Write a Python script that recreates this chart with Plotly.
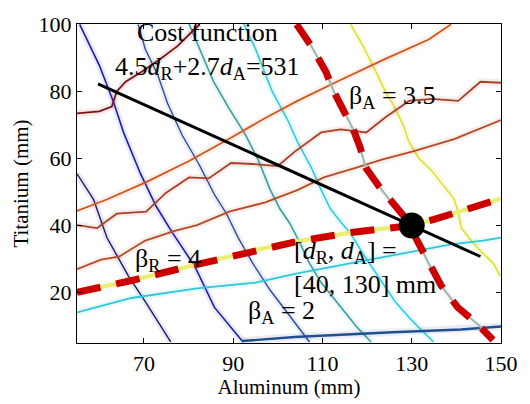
import plotly.graph_objects as go

# ---- beta_A contour lines (Aluminum-controlled), left to right ----
ba1_x = [55.0, 58.7, 61.7, 66.5, 70.3, 76.0]
ba1_y = [55.4, 47.8, 36.4, 25.0, 17.3, 5.3]

ba2_x = [55.6, 60.0, 63.3, 65.4, 69.2, 72.7, 76.4, 81.4, 85.8, 91.1, 92.2]
ba2_y = [99.9, 87.7, 76.3, 67.8, 55.5, 45.8, 37.8, 27.8, 15.6, 7.1, 5.3]

ba3_x = [68.7, 70.3, 73.1, 75.3, 78.6, 82.3, 85.8, 88.5, 91.1, 94.4, 98.3, 102.0, 107.1]
ba3_y = [99.9, 92.5, 84.8, 76.3, 66.8, 58.3, 49.2, 43.5, 36.4, 28.7, 20.7, 14.2, 5.3]

ba4_x = [80.1, 82.5, 85.6, 89.1, 92.8, 95.7, 98.3, 100.5, 102.7, 104.9, 107.1, 109.7, 114.1, 117.6, 120.9]
ba4_y = [100.0, 92.5, 82.8, 74.8, 66.9, 59.2, 50.6, 44.9, 40.6, 34.9, 28.7, 23.0, 15.6, 9.9, 5.3]

ba5_x = [92.4, 95.0, 98.7, 102.2, 104.4, 107.5, 109.7, 111.8, 114.0, 116.2, 119.1, 122.8, 126.3, 130.1, 132.9, 134.9]
ba5_y = [100.0, 92.5, 80.0, 71.4, 64.9, 57.2, 50.6, 44.9, 41.2, 37.8, 31.5, 24.1, 17.3, 11.6, 7.9, 5.3]

# beta_A = 3.5 (design limit)
ba35_x = [104.2, 107.5, 110.8, 112.5, 114.7, 116.9, 118.4, 119.7, 122.8, 126.3, 130.0, 131.0, 132.0, 133.8, 136.6, 140.3, 144.7, 148.2]
ba35_y = [99.9, 93.4, 85.7, 80.0, 74.3, 68.6, 63.4, 57.2, 51.4, 45.5, 40.0, 36.0, 33.5, 28.7, 22.1, 15.6, 10.7, 5.9]

ba6_x = [116.3, 119.1, 122.0, 124.1, 125.7, 127.9, 129.4, 131.6, 134.5, 137.1, 139.5, 140.4, 141.1, 143.3, 146.1, 148.3, 149.8]
ba6_y = [99.9, 93.4, 85.7, 79.9, 76.3, 70.5, 64.8, 60.0, 56.3, 52.0, 47.8, 44.1, 39.3, 35.5, 31.5, 28.7, 25.0]

# ---- beta_R contour lines (Titanium-controlled), bottom to top ----
br0_x = [92.0, 103.8, 125.7, 141.0, 150.0]
br0_y = [5.6, 6.8, 8.2, 9.0, 9.9]

br1_x = [55.0, 67.2, 81.9, 95.0, 103.8, 116.2, 124.1, 131.6, 138.8, 146.0, 150.0]
br1_y = [14.1, 18.4, 21.3, 23.0, 25.6, 28.7, 30.7, 32.7, 34.4, 35.5, 36.4]

# beta_R = 4 (design limit)
br4_x = [55.0, 67.2, 81.9, 95.0, 104.5, 116.9, 124.2, 130.0, 135.0, 140.3, 150.0]
br4_y = [20.1, 23.6, 28.4, 32.7, 35.3, 38.0, 39.2, 40.0, 41.8, 44.0, 48.0]

br5_x = [55.0, 60.4, 64.4, 70.3, 76.9, 81.9, 89.1, 97.2, 104.5, 110.3, 117.6, 123.5, 130.1, 139.5, 150.0]
br5_y = [27.0, 29.8, 30.7, 35.5, 38.4, 40.1, 44.1, 46.9, 50.6, 54.3, 57.2, 59.7, 62.0, 65.7, 71.4]

br6_x = [55.0, 59.5, 63.9, 70.5, 74.9, 80.1, 84.5, 89.5, 94.3, 100.0, 103.8, 109.7, 114.1, 119.8, 124.2, 129.4, 134.5, 140.4, 145.4, 150.0]
br6_y = [40.1, 39.2, 43.5, 44.1, 49.7, 54.3, 54.0, 58.6, 58.3, 57.7, 62.0, 67.7, 68.6, 67.7, 72.3, 77.1, 77.7, 77.1, 82.8, 82.5]

br7_x = [55.0, 61.8, 70.5, 80.1, 88.9, 97.2, 104.4, 113.2, 124.1, 133.8, 138.8]
br7_y = [44.3, 47.8, 52.9, 59.2, 65.7, 72.0, 77.1, 82.8, 89.6, 95.4, 99.9]

br8_x = [55.0, 60.0, 62.8, 63.9, 65.9, 69.4, 73.8, 77.5, 80.3, 82.5]
br8_y = [73.4, 74.0, 75.4, 79.9, 82.8, 85.7, 89.7, 93.4, 97.1, 99.9]

# ---- cost function and optimum ----
cost_r, cost_a, cost_total = 4.5, 2.7, 531
cost_x_ends = [59.7, 145.4]
opt_dR, opt_dA = 40, 130

x_ticks = [70, 90, 110, 130, 150]
y_ticks = [20, 40, 60, 80, 100]

fig = go.Figure()


def contour(x, y, color, width=1.6, halo=True):
    if halo:
        fig.add_trace(go.Scatter(x=x, y=y, mode="lines", opacity=0.09,
                                 line=dict(color=color, width=width + 5),
                                 hoverinfo="skip"))
    fig.add_trace(go.Scatter(x=x, y=y, mode="lines",
                             line=dict(color=color, width=width),
                             hoverinfo="skip"))


contour(ba1_x, ba1_y, "#1a1a66", 1.4)
contour(ba2_x, ba2_y, "#1c1cb0", 1.6)
contour(ba3_x, ba3_y, "#2c4a9c", 1.4)
contour(ba4_x, ba4_y, "#3a9e9e", 1.6)
contour(ba5_x, ba5_y, "#2ccfe0", 1.6)
contour(ba6_x, ba6_y, "#e2e23c", 1.8)
contour(br0_x, br0_y, "#1f4f8f", 2.4)
contour(br1_x, br1_y, "#2cc8dc", 1.8)
contour(br5_x, br5_y, "#b54a26", 1.8)
contour(br6_x, br6_y, "#a8402c", 1.8)
contour(br7_x, br7_y, "#d2561c", 1.8)
contour(br8_x, br8_y, "#7a1414", 1.8)

# limit-state contours under the red dashes
contour(ba35_x, ba35_y, "#9ab8aa", 2.0)
contour(br4_x, br4_y, "#ecec70", 4.0)

# cost function line
cost_y_ends = [(cost_total - cost_a * x) / cost_r for x in cost_x_ends]
fig.add_trace(go.Scatter(x=cost_x_ends, y=cost_y_ends, mode="lines",
                         line=dict(color="black", width=3), hoverinfo="skip"))

# red dashed design limits
for xs, ys in [(ba35_x, ba35_y), (br4_x, br4_y)]:
    fig.add_trace(go.Scatter(x=xs, y=ys, mode="lines",
                             line=dict(color="#cc0000", width=7, dash="24px,16px"),
                             hoverinfo="skip"))

# optimum design point
fig.add_trace(go.Scatter(x=[opt_dA], y=[opt_dR], mode="markers",
                         marker=dict(color="black", size=26), hoverinfo="skip"))

serif = "Liberation Serif"
ann_font = dict(family=serif, size=26, color="black")

annotations = [
    dict(x=84.3, y=92.0,
         text="Cost function<br>4.5<i>d</i><sub>R</sub>+2.7<i>d</i><sub>A</sub>=531",
         xanchor="center", yanchor="middle", align="center"),
    dict(x=125.7, y=78.3, text="β<sub>A</sub> = 3.5", xanchor="center", yanchor="middle"),
    dict(x=75.3, y=29.8, text="β<sub>R</sub> = 4", xanchor="center", yanchor="middle"),
    dict(x=100.9, y=14.2, text="β<sub>A</sub> = 2", xanchor="center", yanchor="middle"),
    dict(x=103.1, y=27.6,
         text="[<i>d</i><sub>R</sub>, <i>d</i><sub>A</sub>] =<br>[40, 130] mm",
         xanchor="left", yanchor="middle", align="left"),
]
for a in annotations:
    a.update(xref="x", yref="y", showarrow=False, font=ann_font)

axis_common = dict(showline=True, linecolor="black", linewidth=1.2, mirror="ticks",
                   ticks="inside", ticklen=5, tickcolor="black", showgrid=False,
                   zeroline=False, tickfont=dict(family=serif, size=22, color="black"))

fig.update_layout(
    width=530, height=404,
    margin=dict(l=77, r=18, t=17, b=54),
    paper_bgcolor="white", plot_bgcolor="white",
    showlegend=False,
    annotations=annotations,
    xaxis=dict(range=[55, 150], tickvals=x_ticks,
               title=dict(text="Aluminum (mm)", font=dict(family=serif, size=21, color="black"),
                          standoff=2),
               **axis_common),
    yaxis=dict(range=[5, 100], tickvals=y_ticks,
               title=dict(text="Titanium (mm)", font=dict(family=serif, size=21, color="black"),
                          standoff=4),
               **axis_common),
)

fig.write_html("out.html")
